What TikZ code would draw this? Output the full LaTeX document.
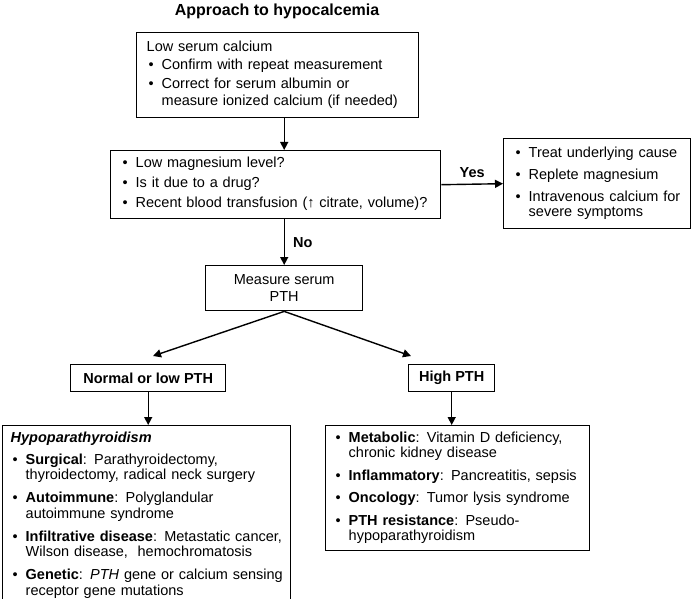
\documentclass[tikz,border=0pt]{standalone}
\usepackage{fontspec}
\setmainfont{Liberation Sans}
\usetikzlibrary{arrows.meta}
\newcommand{\bl}{\makebox[15pt][l]{\hspace{2pt}\textbullet}}

\begin{document}
\begin{tikzpicture}[x=1pt, y=-1pt,
    box/.style={draw, line width=1.4pt, anchor=north west, inner ysep=0pt, inner xsep=10pt, align=left, font=\fontsize{14.5}{15.5}\selectfont},
    tag/.style={draw, line width=1.4pt, anchor=north west, inner sep=0pt, align=center, font=\fontsize{14.5}{17}\selectfont},
    arr/.style={-{Triangle[length=8pt, width=8pt]}, line width=1.4pt}]
    \useasboundingbox (0,0) rectangle (699,599);
    \node[font=\bfseries\fontsize{16}{18}\selectfont] (title) at (277,11) {Approach to hypocalcemia};
    \node[box, text width=262pt, minimum height=85pt] (serum) at (136,32) {%
        \begin{tabular}{@{}l@{}l@{}}
            \multicolumn{2}{@{}l@{}}{Low serum calcium}\\[2.5pt]
            \bl & Confirm with repeat measurement\\[3.5pt]
            \bl & Correct for serum albumin or\\[1.5pt]
                & measure ionized calcium (if needed)
        \end{tabular}};
    \node[box, text width=310pt, minimum height=68pt] (quest) at (110,150) {%
        \begin{tabular}{@{}l@{}l@{}}
            \bl & Low magnesium level?\\[4.5pt]
            \bl & Is it due to a drug?\\[4.5pt]
            \bl & Recent blood transfusion (↑ citrate, volume)?
        \end{tabular}};
    \node[box, text width=167pt, minimum height=90pt] (treat) at (503,138) {%
        \begin{tabular}{@{}l@{}l@{}}
            \bl & Treat underlying cause\\[6.5pt]
            \bl & Replete magnesium\\[6.5pt]
            \bl & Intravenous calcium for\\
                & severe symptoms
        \end{tabular}};
    \node[tag, minimum width=157pt, minimum height=45pt] (pth) at (205,265) {Measure serum\\PTH};
    \node[tag, minimum width=155pt, minimum height=27pt, font=\bfseries\fontsize{14.5}{17}\selectfont] (lowpth) at (70,364) {Normal or low PTH};
    \node[tag, minimum width=86pt, minimum height=27pt, font=\bfseries\fontsize{14.5}{17}\selectfont] (highpth) at (408,364) {High PTH};
    \node[box, text width=272pt, inner xsep=8pt, inner ysep=6pt] (hypo) at (2,425) {%
        \begin{tabular}{@{}l@{}l@{}}
            \multicolumn{2}{@{}l@{}}{\textbf{\textit{Hypoparathyroidism}}}\\[6pt]
            \bl & \textbf{Surgical}: Parathyroidectomy,\\
                & thyroidectomy, radical neck surgery\\[7.5pt]
            \bl & \textbf{Autoimmune}: Polyglandular\\
                & autoimmune syndrome\\[7.5pt]
            \bl & \textbf{Infiltrative disease}: Metastatic cancer,\\
                & Wilson disease,~ hemochromatosis\\[7.5pt]
            \bl & \textbf{Genetic}: \textit{PTH} gene or calcium sensing\\
                & receptor gene mutations
        \end{tabular}};
    \node[box, text width=248pt, inner xsep=8pt, minimum height=125pt] (high) at (325,425) {%
        \begin{tabular}{@{}l@{}l@{}}
            \bl & \textbf{Metabolic}: Vitamin D deficiency,\\
                & chronic kidney disease\\[7pt]
            \bl & \textbf{Inflammatory}: Pancreatitis, sepsis\\[7pt]
            \bl & \textbf{Oncology}: Tumor lysis syndrome\\[7pt]
            \bl & \textbf{PTH resistance}: Pseudo-\\
                & hypoparathyroidism
        \end{tabular}};
    \coordinate (lefttip) at (153,356);
    \coordinate (righttip) at (411,356);
    \draw[arr] (serum.south -| pth.north) -- (quest.north -| pth.north);
    \draw[arr] (quest.east) -- (treat.west) node[midway, above=3pt, font=\bfseries\fontsize{14.5}{17}\selectfont] {Yes};
    \draw[arr] (quest.south -| pth.north) -- (pth.north) node[midway, right=5pt, font=\bfseries\fontsize{14.5}{17}\selectfont] {No};
    \draw[arr] (pth.south) -- (lefttip);
    \draw[arr] (pth.south) -- (righttip);
    \draw[arr] (lowpth.south) -- (lowpth.south |- hypo.north);
    \draw[arr] (highpth.south) -- (highpth.south |- high.north);
\end{tikzpicture}
\end{document}
